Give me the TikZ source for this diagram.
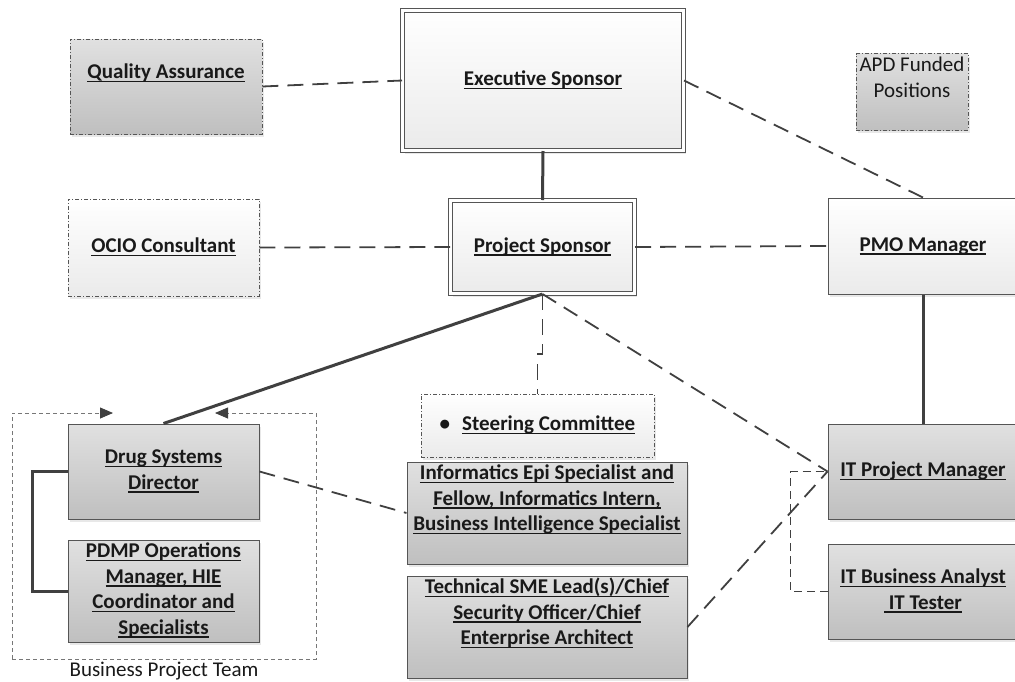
\documentclass[tikz,border=0pt]{standalone}
\usepackage{fontspec}
\setmainfont{Carlito}
\usepackage{tikz}
\usetikzlibrary{arrows.meta, shadows}
\definecolor{orgline}{RGB}{85, 85, 85}
\definecolor{orglink}{RGB}{64, 64, 64}
\definecolor{orgtext}{RGB}{25, 25, 25}
\newcommand{\ulin}[1]{\setbox0\hbox{#1}\strut\rlap{\rule[-3.5pt]{\wd0}{1.5pt}}\box0}
\tikzset{
    orgbox/.style={rectangle, draw=orgline, line width=1pt, inner sep=0pt, align=center,
        font=\fontsize{21}{25.5}\selectfont\bfseries, text=orgtext,
        drop shadow={shadow xshift=2pt, shadow yshift=-3pt, opacity=0.18}},
    graybox/.style={orgbox, top color=black!12, bottom color=black!25},
    lightbox/.style={orgbox, top color=white, bottom color=black!8},
    dashdotbox/.style={dash pattern=on 4pt off 2pt on 1pt off 2pt, line width=0.8pt},
    dblbox/.style={lightbox, double=white, double distance=3pt, line width=1pt},
    dashlink/.style={draw=orglink, line width=1.8pt, dash pattern=on 16pt off 9pt},
    solidlink/.style={draw=orglink, line width=3pt},
    thinlink/.style={draw=orglink, line width=1pt, dash pattern=on 8pt off 5pt},
    teamline/.style={draw=orgline!80, line width=0.8pt, dash pattern=on 4pt off 3pt}
}
\begin{document}
\begin{tikzpicture}[x=1pt, y=-1pt]
    \useasboundingbox (0,0) rectangle (1015,681);
    % top rows
    \node[graybox, dashdotbox, minimum width=192pt, minimum height=95pt] (qa) at (166,86.5) {\ulin{Quality Assurance}\\\strut};
    \node[dblbox, minimum width=281pt, minimum height=140pt] (exec) at (543,80.5) {\ulin{Executive Sponsor}};
    \node[graybox, dashdotbox, minimum width=112pt, minimum height=76pt, font=\fontsize{21}{25.5}\selectfont] (apd) at (912,92) {\strut APD Funded\\\strut Positions\\\strut};
    \node[lightbox, dashdotbox, minimum width=191pt, minimum height=97pt] (ocio) at (163.5,247.5) {\ulin{OCIO Consultant}};
    \node[dblbox, minimum width=184pt, minimum height=93pt] (ps) at (542.5,247) {\ulin{Project Sponsor}};
    \node[lightbox, minimum width=190pt, minimum height=96pt] (pmo) at (923,246) {\ulin{PMO Manager}};

    % business project team
    \coordinate (teamNW) at (12,413);
    \coordinate (teamSE) at (316,659);
    \draw[teamline, -{Triangle[length=13pt, width=11pt, color=orglink]}] (teamSE -| teamNW) -- (teamNW) -- ++(101,0);
    \draw[teamline, -{Triangle[length=13pt, width=11pt, color=orglink]}] (teamSE -| teamNW) -- (teamSE) -- (teamNW -| teamSE) -- ++(-101,0);
    \node[font=\fontsize{21}{25.5}\selectfont, text=orgtext] (teamlbl) at (164,671) {Business Project Team};
    \node[graybox, minimum width=191pt, minimum height=95pt] (drug) at (163.5,471.5) {\ulin{Drug Systems}\\\ulin{Director}};
    \node[graybox, minimum width=191pt, minimum height=96pt] (pdmp) at (163.5,591) {\ulin{PDMP Operations}\\\ulin{Manager, HIE}\\\ulin{Coordinator and}\\\ulin{Specialists}};

    % middle column
    \node[lightbox, dashdotbox, minimum width=233pt, minimum height=63pt] (steer) at (537.5,425.5) {\strut\textbullet\hspace{12pt}\ulin{Steering Committee}};
    \node[graybox, minimum width=280pt, minimum height=90pt] (info) at (547,513) {\ulin{Informatics Epi Specialist and}\\\ulin{Fellow, Informatics Intern,}\\\ulin{Business Intelligence Specialist}\\\strut};
    \node[graybox, minimum width=280pt, minimum height=96pt] (tech) at (547,627) {\ulin{Technical SME Lead(s)/Chief}\\\ulin{Security Officer/Chief}\\\ulin{Enterprise Architect}\\\strut};

    % IT column
    \node[graybox, minimum width=190pt, minimum height=95pt] (itpm) at (923,471.5) {\ulin{IT Project Manager}};
    \node[graybox, minimum width=190pt, minimum height=95pt] (itba) at (923,591.5) {\ulin{IT Business Analyst}\\\ulin{~IT Tester}};

    \draw[dashlink] (qa.east) -- (exec.west);
    \draw[solidlink] (exec.south) -- (ps.north);
    \draw[dashlink] (exec.east) -- (pmo.north);
    \draw[dashlink] (ocio.east) -- (ps.west);
    \draw[dashlink] (ps.east) -- (pmo.west);
    \draw[solidlink] (pmo.south) -- (itpm.north);
    \draw[solidlink] (ps.south) -- (drug.north);
    \draw[dashlink] (ps.south) -- ++(0,60) -| (steer.north);
    \draw[dashlink] (ps.south) -- (itpm.west);
    \draw[dashlink] (tech.east) -- (itpm.west);
    \draw[thinlink] (itba.west) -- ++(-37,0) |- (itpm.west);
    \draw[dashlink] (drug.east) -- (info.west);
    \draw[solidlink] (drug.west) -- ++(-35,0) |- (pdmp.west);
\end{tikzpicture}
\end{document}
